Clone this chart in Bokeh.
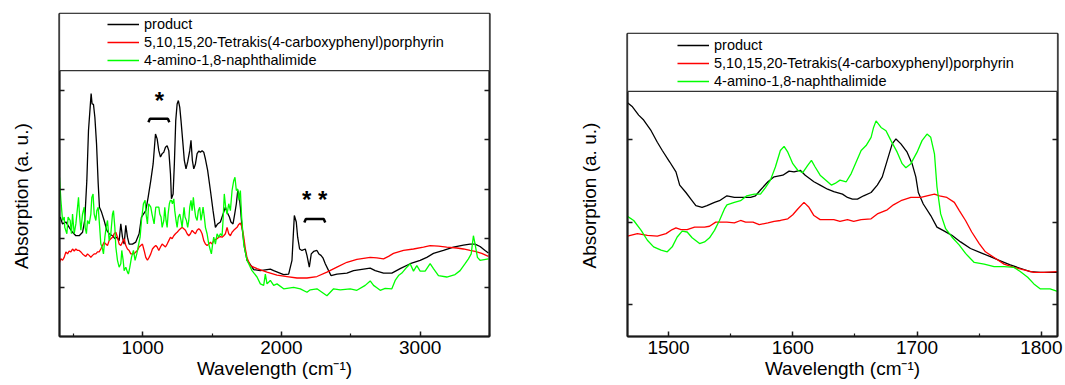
from bokeh.plotting import figure
from bokeh.models import Legend, LegendItem, BoxAnnotation, FixedTicker, LinearAxis, Range1d
from bokeh.layouts import row
from bokeh.embed import file_html
from bokeh.resources import INLINE
from bokeh.core.properties import value

FONT = "Liberation Sans"
SERIES = ["product", "5,10,15,20-Tetrakis(4-carboxyphenyl)porphyrin", "4-amino-1,8-naphthalimide"]
COLORS = ["#000000", "#ff0000", "#00ff00"]
X_LABEL = "Wavelength (cm\u207b\u00b9)"
Y_LABEL = "Absorption (a. u.)"

# ---------------- left panel: full range ----------------
LEFT_XTICKS = [1000, 2000, 3000]
LEFT_XMINOR = [500, 1500, 2500, 3500]
LEFT_YTICKS = [1, 2, 3, 4, 5]

BLK_L_X = [405, 422, 446, 470, 494, 518, 542, 566, 582, 597,
           609, 621, 628, 635, 645, 655, 667, 679, 688, 703,
           722, 741, 758, 782, 799, 813, 830, 842, 854, 866,
           878, 890, 902, 926, 950, 974, 991, 1005, 1022, 1039,
           1058, 1075, 1092, 1104, 1116, 1128, 1140, 1152, 1164, 1176,
           1188, 1200, 1207, 1219, 1228, 1238, 1248, 1257, 1267, 1276,
           1288, 1300, 1312, 1324, 1339, 1348, 1358, 1368, 1380, 1392,
           1404, 1416, 1428, 1440, 1452, 1468, 1488, 1507, 1524, 1540,
           1560, 1572, 1584, 1596, 1608, 1625, 1636, 1651, 1663, 1675,
           1685, 1694, 1704, 1716, 1733, 1752, 1771, 1800, 1848, 1920,
           1944, 2016, 2052, 2076, 2093, 2107, 2117, 2131, 2148, 2172,
           2184, 2201, 2215, 2232, 2256, 2270, 2285, 2299, 2316, 2340,
           2357, 2400, 2472, 2520, 2568, 2640, 2676, 2736, 2796, 2856,
           2928, 3000, 3048, 3096, 3168, 3240, 3312, 3360, 3396, 3432,
           3468, 3492]
BLK_L_Y = [2.43, 2.29, 2.33, 2.22, 2.12, 2.05, 2.05, 2.12, 2.36, 3.17,
           4.19, 4.66, 4.94, 4.73, 4.72, 4.46, 3.92, 3.11, 2.63, 2.53,
           2.36, 2.16, 2.09, 2.05, 1.99, 2.02, 1.95, 2.29, 2.02, 1.88,
           2.26, 2.02, 1.88, 1.88, 1.92, 2.09, 2.43, 2.49, 2.56, 2.83,
           3.17, 3.51, 4.12, 4.02, 3.78, 3.65, 3.72, 3.75, 3.85, 3.88,
           3.78, 3.31, 2.80, 2.90, 3.51, 4.39, 4.73, 4.80, 4.66, 4.39,
           3.99, 3.58, 3.41, 3.55, 3.78, 3.99, 3.58, 3.41, 3.51, 3.72,
           3.77, 3.75, 3.78, 3.75, 3.61, 3.38, 2.97, 2.56, 2.22, 2.29,
           2.33, 2.43, 2.53, 2.63, 2.53, 2.43, 2.33, 2.29, 2.49, 2.70,
           2.97, 2.90, 2.63, 2.22, 1.82, 1.55, 1.48, 1.36, 1.34, 1.37,
           1.34, 1.26, 1.27, 1.55, 2.46, 2.33, 2.02, 1.78, 1.75, 1.78,
           1.65, 1.41, 1.68, 1.73, 1.75, 1.68, 1.65, 1.60, 1.48, 1.34,
           1.24, 1.27, 1.29, 1.34, 1.36, 1.39, 1.34, 1.29, 1.29, 1.38,
           1.48, 1.55, 1.61, 1.69, 1.75, 1.82, 1.86, 1.88, 1.88, 1.83,
           1.75, 1.70]

RED_L_X = [400, 410, 422, 434, 446, 458, 470, 482, 494, 506,
           518, 530, 542, 554, 566, 578, 590, 602, 614, 626,
           638, 650, 662, 674, 686, 698, 710, 722, 734, 746,
           758, 770, 782, 794, 806, 818, 830, 842, 854, 866,
           878, 890, 902, 914, 926, 938, 950, 962, 974, 986,
           998, 1010, 1022, 1034, 1046, 1058, 1070, 1082, 1094,
           1104, 1116, 1128, 1140, 1152, 1164, 1176, 1188, 1200, 1212,
           1224, 1236, 1248, 1260, 1272, 1284, 1296, 1308, 1320, 1332,
           1344, 1356, 1368, 1380, 1392, 1404, 1416, 1428, 1440, 1452,
           1464, 1476, 1488, 1500, 1512, 1524, 1536, 1548, 1560, 1572,
           1584, 1596, 1608, 1620, 1632, 1644, 1656, 1668, 1680, 1692,
           1704, 1716, 1728, 1740, 1752,
           1776, 1824, 1896, 1968, 2040, 2112, 2184, 2256, 2328, 2400, 2472, 2544,
           2568, 2640, 2688, 2736, 2772, 2808, 2880, 2952, 3024, 3072, 3132, 3192,
           3264, 3312, 3360, 3396, 3444, 3492]
RED_L_Y = [1.51, 1.58, 1.55, 1.61, 1.72, 1.68, 1.74, 1.72, 1.78, 1.74,
           1.78, 1.75, 1.75, 1.72, 1.68, 1.65, 1.63, 1.68, 1.65, 1.61,
           1.65, 1.68, 1.68, 1.72, 1.72, 1.78, 1.85, 1.92, 1.88, 1.85,
           1.95, 1.99, 2.02, 2.09, 2.12, 2.02, 1.88, 1.85, 1.92, 1.99,
           1.85, 1.78, 1.75, 1.68, 1.68, 1.68, 1.72, 1.75, 1.82, 1.85,
           1.88, 1.75, 1.61, 1.55, 1.61, 1.68, 1.78, 1.82, 1.85,
           1.82, 1.75, 1.82, 1.88, 1.85, 1.82, 1.88, 1.95, 2.02, 1.99,
           2.05, 2.09, 2.12, 2.16, 2.19, 2.22, 2.19, 2.16, 2.09, 2.05,
           2.09, 2.16, 2.12, 2.09, 2.16, 2.19, 2.16, 2.09, 1.95, 1.88,
           1.85, 1.88, 1.92, 1.88, 1.95, 1.97, 1.99, 2.02, 2.03, 2.02,
           2.05, 2.09, 2.22, 2.09, 2.05, 2.12, 2.16, 2.19, 2.22, 2.28,
           2.31, 2.22, 2.03, 1.78, 1.60,
           1.44, 1.38, 1.31, 1.25, 1.22, 1.19, 1.19, 1.22, 1.31, 1.41, 1.51, 1.57,
           1.58, 1.61, 1.60, 1.58, 1.63, 1.69, 1.75, 1.78, 1.82, 1.85, 1.84, 1.82,
           1.80, 1.78, 1.75, 1.73, 1.69, 1.63]

GRN_L_X = [400, 410, 422, 434, 438, 453, 462, 477, 486, 494,
           506, 518, 530, 537, 544, 554, 566, 578, 585, 594,
           602, 614, 626, 633, 642, 650, 662, 669, 679, 688,
           698, 707, 717, 727, 736, 746, 758, 770, 782, 789,
           799, 806, 818, 830, 842, 849, 859, 866, 878, 890,
           897, 907, 919, 933, 945, 957, 971, 981, 991, 1005,
           1017, 1024, 1034, 1043, 1058, 1067, 1082, 1094,
           1104, 1116, 1123, 1132, 1140, 1152, 1159, 1168, 1176, 1183,
           1192, 1200, 1207, 1214, 1224, 1231, 1240, 1248, 1257, 1267,
           1276, 1284, 1291, 1298, 1305, 1315, 1324, 1332, 1339, 1348,
           1356, 1365, 1372, 1382, 1392, 1401, 1411, 1420, 1428, 1435,
           1444, 1452, 1464, 1476, 1488, 1495, 1504, 1512, 1524, 1536,
           1548, 1560, 1572, 1579, 1588, 1598, 1608, 1620, 1632, 1644,
           1656, 1665, 1675, 1685, 1694, 1704, 1713, 1728, 1752, 1788,
           1824, 1848, 1872, 1884, 1896, 1920, 1944, 1968, 2016, 2088,
           2136, 2184, 2208, 2256, 2328, 2376, 2424, 2496, 2544, 2604,
           2640, 2664, 2688, 2712, 2748, 2796, 2820, 2844, 2868, 2904,
           2928, 2952, 2976, 3000, 3036, 3072, 3096, 3132, 3192, 3252,
           3288, 3324, 3348, 3368, 3384, 3396, 3413, 3432, 3492]
GRN_L_Y = [3.24, 2.77, 2.36, 2.43, 2.22, 2.09, 2.43, 2.36, 2.09, 2.49,
           2.09, 2.29, 2.63, 2.83, 2.49, 2.16, 2.49, 2.63, 2.22, 2.09,
           2.36, 2.29, 2.49, 2.83, 2.90, 2.49, 2.36, 2.56, 2.63, 2.29,
           1.88, 1.82, 1.68, 2.02, 2.22, 2.36, 1.95, 2.09, 2.49, 2.56,
           2.22, 1.82, 1.55, 1.41, 1.48, 1.75, 1.55, 1.34, 1.41, 1.31,
           1.27, 1.41, 1.61, 1.75, 1.55, 1.68, 1.88, 2.02, 2.36, 2.70,
           2.77, 2.49, 2.29, 2.70, 2.63, 2.49, 2.29, 2.63,
           2.63, 2.63, 2.49, 2.43, 2.22, 2.36, 2.63, 2.36, 2.22, 2.49,
           2.70, 2.77, 2.77, 2.70, 2.80, 2.56, 2.36, 2.22, 2.43, 2.49,
           2.36, 2.22, 2.43, 2.63, 2.43, 2.36, 2.22, 2.36, 2.63, 2.77,
           2.56, 2.83, 2.63, 2.43, 2.36, 2.56, 2.63, 2.36, 2.49, 2.63,
           2.43, 2.22, 2.09, 1.88, 1.75, 1.68, 1.88, 2.02, 1.88, 2.09,
           2.02, 2.09, 2.05, 2.36, 2.90, 2.63, 2.49, 2.70, 2.56, 2.97,
           3.17, 3.24, 2.97, 3.00, 2.77, 2.97, 2.43, 1.88, 1.55, 1.34,
           1.21, 1.07, 1.04, 1.27, 1.07, 1.14, 1.04, 1.07, 0.97, 1.00,
           0.97, 0.90, 0.95, 0.97, 0.83, 0.97, 0.95, 0.97, 0.94, 1.04,
           1.13, 1.04, 0.99, 0.94, 0.98, 0.97, 1.14, 1.24, 1.29, 1.41,
           1.48, 1.33, 1.44, 1.33, 1.33, 1.48, 1.38, 1.24, 1.21, 1.26,
           1.34, 1.48, 1.58, 1.68, 2.05, 1.88, 1.61, 1.55, 1.58]

# peak markers in the left panel
STAR1_TEXT, STAR1_X, STAR1_Y = "*", 1120, 4.80
STAR2_TEXT, STAR2_X, STAR2_Y = "* *", 2240, 2.78
BRACKET1_X = [1041, 1052, 1181, 1192]
BRACKET1_Y = [4.36, 4.43, 4.43, 4.36]
BRACKET2_X = [2165, 2176, 2305, 2316]
BRACKET2_Y = [2.32, 2.39, 2.39, 2.32]

# ---------------- right panel: zoom 1467-1813 ----------------
RIGHT_XTICKS = [1500, 1600, 1700, 1800]
RIGHT_XMINOR = [1550, 1650, 1750]
RIGHT_YTICKS = [1, 2, 3]

BLK_R_X = [1467, 1471, 1476, 1480, 1486, 1491, 1495, 1501, 1506, 1509,
           1514, 1518, 1522, 1527, 1531, 1537, 1541, 1547, 1553, 1559,
           1566, 1570, 1574, 1580, 1585, 1592, 1597, 1601, 1606, 1610,
           1617, 1622, 1628, 1633, 1640, 1644, 1648, 1652, 1657, 1663,
           1668, 1672, 1676, 1680, 1683, 1687, 1692, 1696, 1699, 1701,
           1705, 1711, 1716, 1722, 1728, 1735, 1743, 1751, 1759, 1767,
           1775, 1783, 1791, 1799, 1813]
BLK_R_Y = [3.45, 3.40, 3.30, 3.24, 3.11, 2.97, 2.87, 2.73, 2.61, 2.45,
           2.36, 2.28, 2.20, 2.18, 2.20, 2.24, 2.26, 2.32, 2.30, 2.30,
           2.30, 2.32, 2.39, 2.49, 2.55, 2.57, 2.62, 2.61, 2.63, 2.57,
           2.49, 2.45, 2.40, 2.37, 2.34, 2.30, 2.28, 2.28, 2.32, 2.36,
           2.45, 2.55, 2.75, 2.95, 3.01, 2.95, 2.85, 2.71, 2.55, 2.36,
           2.22, 2.08, 1.94, 1.89, 1.84, 1.76, 1.68, 1.63, 1.58, 1.53,
           1.48, 1.44, 1.40, 1.39, 1.39]

RED_R_X = [1467, 1475, 1483, 1491, 1498, 1503, 1506, 1510, 1515, 1521,
           1529, 1533, 1538, 1542, 1547, 1553, 1558, 1562, 1568, 1573,
           1580, 1585, 1590, 1596, 1600, 1604, 1609, 1613, 1617, 1622,
           1628, 1633, 1638, 1644, 1649, 1655, 1663, 1668, 1676, 1681,
           1687, 1695, 1703, 1708, 1714, 1718, 1724, 1730, 1734, 1739,
           1744, 1750, 1755, 1762, 1770, 1778, 1786, 1794, 1802, 1813]
RED_R_Y = [1.83, 1.86, 1.84, 1.83, 1.86, 1.91, 1.93, 1.91, 1.91, 1.94,
           1.94, 1.95, 2.00, 2.00, 2.00, 1.99, 2.02, 2.00, 2.00, 1.97,
           1.99, 2.01, 2.02, 2.04, 2.09, 2.16, 2.24, 2.18, 2.08, 2.03,
           2.03, 2.03, 2.01, 2.03, 2.01, 2.03, 2.04, 2.10, 2.15, 2.21,
           2.26, 2.30, 2.30, 2.32, 2.34, 2.32, 2.30, 2.24, 2.14, 2.02,
           1.88, 1.74, 1.64, 1.57, 1.49, 1.45, 1.42, 1.39, 1.39, 1.40]

GRN_R_X = [1467, 1472, 1478, 1483, 1488, 1494, 1499, 1503, 1507, 1511,
           1515, 1519, 1525, 1529, 1533, 1537, 1541, 1545, 1547, 1553,
           1558, 1563, 1569, 1574, 1578, 1582, 1586, 1590, 1593, 1596,
           1600, 1604, 1608, 1612, 1615, 1618, 1622, 1628, 1631, 1634,
           1638, 1643, 1647, 1651, 1655, 1659, 1663, 1665, 1667, 1671,
           1675, 1679, 1684, 1688, 1691, 1695, 1700, 1704, 1708, 1711,
           1714, 1716, 1719, 1723, 1728, 1734, 1739, 1746, 1754, 1762,
           1770, 1778, 1783, 1789, 1794, 1799, 1807, 1813]
GRN_R_Y = [2.07, 2.02, 1.90, 1.78, 1.70, 1.66, 1.64, 1.70, 1.82, 1.89,
           1.88, 1.81, 1.74, 1.76, 1.81, 1.90, 2.02, 2.16, 2.21, 2.24,
           2.26, 2.32, 2.34, 2.34, 2.42, 2.51, 2.67, 2.87, 2.92, 2.85,
           2.71, 2.63, 2.60, 2.69, 2.75, 2.67, 2.57, 2.49, 2.45, 2.47,
           2.51, 2.49, 2.59, 2.73, 2.87, 2.93, 3.03, 3.15, 3.23, 3.15,
           3.11, 2.99, 2.85, 2.71, 2.66, 2.71, 2.85, 2.99, 3.07, 3.03,
           2.83, 2.43, 2.10, 1.92, 1.82, 1.72, 1.62, 1.51, 1.49, 1.46,
           1.46, 1.45, 1.40, 1.33, 1.25, 1.19, 1.19, 1.16]


def style_axis(ax, ticks, minor, show_labels, label):
    ax.ticker = FixedTicker(ticks=ticks, minor_ticks=minor)
    ax.axis_line_color = "#1a1a1a"
    ax.axis_line_width = 2
    ax.major_tick_line_color = "#1a1a1a"
    ax.major_tick_line_width = 1.5
    ax.major_tick_in = 5
    ax.major_tick_out = 0
    ax.minor_tick_line_color = "#1a1a1a"
    ax.minor_tick_line_width = 1.2
    ax.minor_tick_in = 3
    ax.minor_tick_out = 0
    ax.major_label_text_font = FONT
    ax.major_label_text_color = "#000000"
    ax.major_label_text_font_size = "19px"
    if show_labels:
        ax.major_label_standoff = 4
    else:
        ax.major_label_overrides = {t: "" for t in ticks}
        ax.major_label_standoff = 0
    if label:
        ax.axis_label = label
        ax.axis_label_text_font = FONT
        ax.axis_label_text_font_size = "19px"
        ax.axis_label_text_font_style = "normal"
        ax.axis_label_text_color = "#000000"


def make_panel(width, height, xr, yr, legend_bottom, xticks, xminor, yticks,
               border_left, border_right, border_top, border_bottom,
               series, legend_x, legend_y, ylabel_pad):
    p = figure(width=width, height=height, x_range=Range1d(*xr), y_range=Range1d(*yr),
               output_backend="svg", toolbar_location=None, frame_align=False,
               min_border_left=border_left, min_border_right=border_right,
               min_border_top=border_top, min_border_bottom=border_bottom)
    p.grid.visible = False
    p.outline_line_color = "#1a1a1a"
    p.outline_line_width = 1.5
    p.background_fill_color = "white"
    p.border_fill_color = "white"

    style_axis(p.xaxis[0], xticks, xminor, True, X_LABEL)
    p.xaxis[0].axis_label_standoff = 1
    style_axis(p.yaxis[0], yticks, [], False, Y_LABEL + "\u00a0" * ylabel_pad)
    p.yaxis[0].axis_label_standoff = 28

    right_axis = LinearAxis()
    style_axis(right_axis, yticks, [], False, None)
    p.add_layout(right_axis, "right")

    items = []
    for (xs, ys), name, col in zip(series, SERIES, COLORS):
        r = p.line(xs, ys, line_color=col, line_width=1.3)
        items.append(LegendItem(label=name, renderers=[r]))

    legend_box = BoxAnnotation(bottom=legend_bottom, fill_color="white", fill_alpha=1.0,
                               line_color="#333333", line_width=1.2, line_alpha=1.0)
    p.add_layout(legend_box)

    legend = Legend(items=items, location=(legend_x, legend_y), padding=0, spacing=0, margin=0,
                    glyph_width=32, glyph_height=18, label_height=18, label_standoff=5,
                    label_text_font=FONT, label_text_font_size="14.5px",
                    label_text_color="#000000",
                    border_line_alpha=0, background_fill_alpha=0)
    p.add_layout(legend)
    return p


left = make_panel(560, 385, (400, 3500), (0, 6.57), 5.41,
                  LEFT_XTICKS, LEFT_XMINOR, LEFT_YTICKS,
                  59, 71, 13, 49,
                  [(BLK_L_X, BLK_L_Y), (RED_L_X, RED_L_Y), (GRN_L_X, GRN_L_Y)],
                  48, 267, 8)

left.text(x=[STAR1_X], y=[STAR1_Y], text=[STAR1_TEXT], text_font=value(FONT),
          text_font_size="24px", text_font_style="bold", text_align="center",
          text_baseline="alphabetic", text_color="#000000")
left.text(x=[STAR2_X], y=[STAR2_Y], text=[STAR2_TEXT], text_font=value(FONT),
          text_font_size="24px", text_font_style="bold", text_align="center",
          text_baseline="alphabetic", text_color="#000000")
left.line(BRACKET1_X, BRACKET1_Y, line_color="#000000", line_width=2.5)
left.line(BRACKET2_X, BRACKET2_Y, line_color="#000000", line_width=2.5)

right = make_panel(504, 385, (1467, 1813), (0.611, 4.291), 3.587,
                   RIGHT_XTICKS, RIGHT_XMINOR, RIGHT_YTICKS,
                   67, 7, 33, 49,
                   [(BLK_R_X, BLK_R_Y), (RED_R_X, RED_R_Y), (GRN_R_X, GRN_R_Y)],
                   50, 246, 4)

layout = row(left, right)
open("out.html", "w").write(file_html(layout, INLINE))
